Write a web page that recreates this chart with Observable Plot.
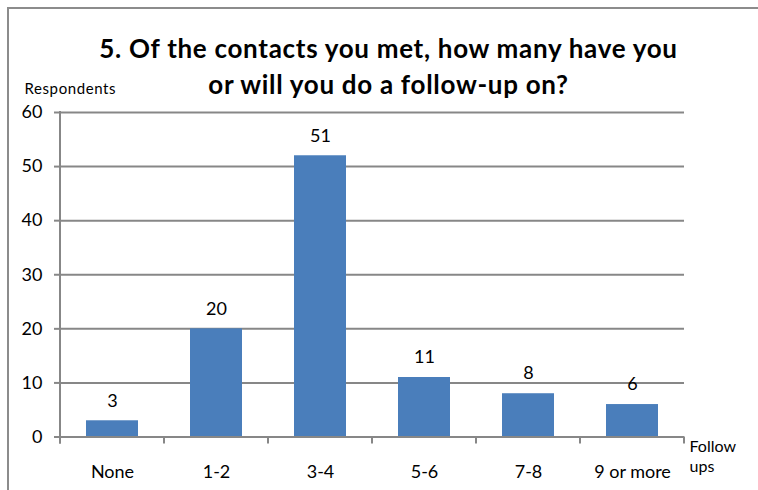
<!DOCTYPE html>
<html><head><meta charset="utf-8">
<script src="https://cdn.jsdelivr.net/npm/d3@7"></script>
<script src="https://cdn.jsdelivr.net/npm/@observablehq/plot@0.6"></script>
<style>
html,body{margin:0;padding:0;background:#fff;overflow:hidden;}
#wrap{position:relative;width:758px;height:490px;overflow:hidden;}
#frame{position:absolute;left:7px;top:7px;width:800px;height:600px;border:2px solid #8c8c8c;box-sizing:border-box;}
#chart{position:absolute;left:0;top:0;}
</style></head><body>
<div id="wrap"><div id="frame"></div><div id="chart"></div></div>
<script>
const categories = ["None", "1-2", "3-4", "5-6", "7-8", "9 or more"];
const respondents = [3, 20, 52, 11, 8, 6];
const valueLabels = ["3", "20", "51", "11", "8", "6"];
const yTicks = [0, 10, 20, 30, 40, 50, 60];
const titleLines = ["5. Of the contacts you met, how many have you", "or will you do a follow-up on?"];
const yLabel = "Respondents";
const xLabel = ["Follow", "ups"];

const data = categories.map((c, i) => ({category: c, value: respondents[i], label: valueLabels[i]}));

const FONT = "Lato, 'Open Sans', sans-serif";
const GRID = "#878787";
const BAR = "#4a7ebb";

function boundaryTicks(index, scales, values, dims) {
  const y = scales.y;
  const n = categories.length;
  const step = (dims.width - dims.marginLeft - dims.marginRight) / n;
  const y0 = y(0);
  const xs = d3.range(n + 1).map(i => dims.marginLeft + i * step);
  const g = d3.create("svg:g").attr("stroke", GRID).attr("stroke-width", 2);
  g.selectAll("line").data(xs).join("line")
    .attr("x1", d => d).attr("x2", d => d).attr("y1", y0).attr("y2", y0 + 7);
  g.append("line").attr("x1", xs[0]).attr("x2", xs[0]).attr("y1", y(60) - 1).attr("y2", y0 + 7);
  return g.node();
}

const chart = Plot.plot({
  width: 758, height: 490,
  marginLeft: 60, marginRight: 74, marginTop: 112, marginBottom: 53.5,
  style: {fontFamily: FONT, fontSize: "18px", color: "#000", background: "transparent"},
  x: {domain: categories, paddingInner: 0.5, paddingOuter: 0.25, label: null},
  y: {domain: [0, 60], ticks: yTicks, label: null},
  marks: [
    Plot.ruleY(yTicks, {stroke: GRID, strokeWidth: 2}),
    Plot.barY(data, {x: "category", y: "value", fill: BAR}),
    Plot.ruleY([0], {stroke: GRID, strokeWidth: 2}),
    boundaryTicks,
    Plot.axisY({ticks: yTicks, tickSize: 6, tickPadding: 12, stroke: GRID, strokeWidth: 2, fill: "#000", fontSize: 18, label: null, tickFormat: d => String(d)}),
    Plot.axisX({tickSize: 0, tickPadding: 28, fontSize: 18, fill: "#000", label: null}),
    Plot.text(data, {x: "category", y: "value", text: "label", dy: -20, fontSize: 18, fill: "#000"}),
    Plot.text([titleLines.join("\n")], {frameAnchor: "top", dx: 16, dy: -79, lineAnchor: "top", lineHeight: 1.35, fontSize: 26, fontWeight: "bold", fill: "#000"}),
    Plot.text([yLabel], {frameAnchor: "top-left", textAnchor: "start", dx: -36, dy: -29, fontSize: 15, fill: "#000"}),
    Plot.text([xLabel.join("\n")], {frameAnchor: "bottom-right", textAnchor: "start", lineAnchor: "top", dx: 5, dy: 0.5, lineHeight: 1.25, fontSize: 16, fill: "#000"})
  ]
});
const svg = d3.select(chart);
svg.selectAll("text").filter(function() { return this.textContent.startsWith("5."); }).style("letter-spacing", "0.7px");
svg.selectAll("text").filter(function() { return this.textContent === yLabel; }).style("letter-spacing", "0.6px");
document.getElementById("chart").append(chart);
</script>
</body></html>
